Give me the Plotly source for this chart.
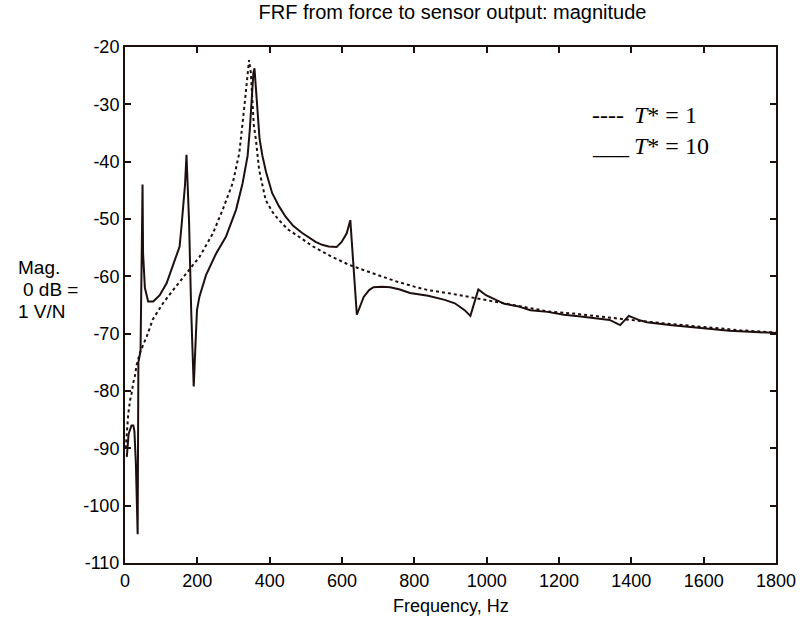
import plotly.graph_objects as go

# T* = 10 (solid)
f10 = [5, 10, 18, 23, 26, 30, 35, 37, 43, 46, 48.5, 50, 55, 64, 78, 96, 115, 133, 151, 157, 162, 166, 170, 173, 177,
       183, 190, 199, 206, 224, 252, 279, 307, 325, 339, 345, 350, 355, 358, 362, 366, 372, 380, 390, 407, 426,
       444, 465, 489, 510, 527, 545, 563, 585, 599, 613, 623, 641, 650, 660, 675, 687, 710, 733, 760, 788, 838,
       884, 912, 939, 955, 977, 998, 1021, 1049, 1085, 1121, 1168, 1214, 1260, 1305, 1340, 1369, 1393, 1420,
       1443, 1506, 1580, 1671, 1740, 1800]
m10 = [-91.5, -87.5, -86, -86, -87, -92.5, -105, -75, -73, -59, -44, -56, -62, -64.4, -64.4, -63.3, -61.2, -58,
       -54.8, -50.7, -46.5, -44, -38.8, -44, -50.2, -65.9, -79.2, -65.9, -63.5, -59.8, -56, -53.1, -48.4, -43.8,
       -39, -34.5, -29, -24.5, -23.7, -27, -30.4, -36, -39, -41.8, -45.5, -47.8, -49.6, -51.2, -52.4, -53.3, -54,
       -54.5, -54.8, -54.9, -54, -52.5, -50.2, -66.7, -65.3, -63.6, -62.4, -61.9, -61.8, -61.9, -62.3, -62.9,
       -63.4, -64.1, -64.7, -65.9, -66.9, -62.3, -63.3, -64, -64.8, -65.2, -65.9, -66.2, -66.7, -67, -67.3,
       -67.6, -68.5, -66.9, -67.6, -68, -68.5, -68.9, -69.5, -69.7, -69.9]

# T* = 1 (dotted)
f1 = [2, 6, 9, 14, 18, 23, 27, 32, 41, 50, 60, 77, 105, 133, 170, 206, 243, 270, 298, 316, 330, 338, 343, 348,
      352, 356, 362, 371, 389, 408, 426, 450, 481, 520, 572, 620, 664, 700, 746, 800, 838, 900, 966, 1021, 1100,
      1168, 1241, 1305, 1397, 1489, 1560, 1626, 1700, 1800]
m1 = [-90, -86.2, -84, -81.6, -80.5, -78.5, -77.5, -75.5, -73.4, -72, -70.5, -67.5, -64.7, -62.4, -59.5, -56.6,
      -52.5, -48.4, -43.7, -38.5, -30.4, -26, -22.3, -24.5, -30.4, -33.5, -36.2, -41.5, -46.7, -48.8, -50.2,
      -51.8, -53.1, -54.8, -56.6, -58, -59, -59.8, -60.8, -61.8, -62.4, -63, -63.7, -64.4, -65.3, -66.1, -66.5,
      -66.9, -67.6, -68.2, -68.6, -69, -69.4, -69.8]

x_ticks = [0, 200, 400, 600, 800, 1000, 1200, 1400, 1600, 1800]
y_ticks = [-110, -100, -90, -80, -70, -60, -50, -40, -30, -20]

INK = "#1e0f0f"
SANS = "Liberation Sans, Arial"
SERIF = "Liberation Serif, Times New Roman"

fig = go.Figure()
fig.add_trace(go.Scatter(x=f1, y=m1, mode="lines", line=dict(color=INK, width=2, dash="dot"), name="T*=1"))
fig.add_trace(go.Scatter(x=f10, y=m10, mode="lines", line=dict(color=INK, width=2), name="T*=10"))

axis_common = dict(showgrid=False, zeroline=False, showline=True, linecolor=INK, linewidth=2,
                   ticks="inside", ticklen=6, tickwidth=2, tickcolor=INK, mirror="ticks",
                   tickfont=dict(family=SANS, size=18, color="#000"))

fig.update_xaxes(range=[0, 1800], tickvals=x_ticks, ticktext=[str(v) for v in x_ticks], **axis_common)
fig.update_yaxes(range=[-110, -20], tickvals=y_ticks, ticktext=[str(v) for v in y_ticks], **axis_common)


def ann(text, x, y, size, family, xanchor="left"):
    return dict(text=text, xref="paper", yref="paper", x=x, y=y, xanchor=xanchor, yanchor="middle",
                showarrow=False, align="left", font=dict(family=family, size=size, color="#000"))


fig.update_layout(
    width=808, height=623,
    margin=dict(l=125, r=28, t=47, b=60),
    paper_bgcolor="white", plot_bgcolor="white",
    showlegend=False,
    title=dict(text="FRF from force to sensor output: magnitude", x=0.56, xanchor="center",
               y=0.981, yanchor="middle", font=dict(family=SANS, size=20, color="#000")),
    annotations=[
        ann("Frequency, Hz", 0.5, -0.084, 18, SANS, xanchor="center"),
        ann("Mag.", -0.168, 0.573, 19, SANS),
        ann("0 dB =", -0.159, 0.531, 19, SANS),
        ann("1 V/N", -0.168, 0.488, 19, SANS),
        ann("----", 0.7145, 0.868, 24, SERIF),
        ann("<i>T</i>* = 1", 0.7786, 0.868, 24, SERIF),
        ann("___", 0.7145, 0.808, 24, SERIF),
        ann("<i>T</i>* = 10", 0.7786, 0.808, 24, SERIF),
    ],
)

fig.write_html("out.html")
